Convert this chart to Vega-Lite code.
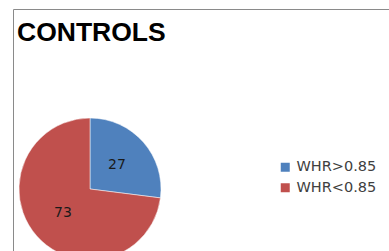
{
  "$schema": "https://vega.github.io/schema/vega-lite/v6.json",
  "autosize": "none",
  "padding": {"left": 13, "top": 9, "right": 0, "bottom": 0},
  "width": 420,
  "height": 300,
  "background": "white",
  "view": {"stroke": "#8a8a8a", "strokeWidth": 1},
  "config": {
    "font": "DejaVu Sans"
  },
  "title": {
    "text": "CONTROLS",
    "orient": "top",
    "anchor": "start",
    "frame": "group",
    "baseline": "alphabetic",
    "offset": 0,
    "dy": 58,
    "dx": 4,
    "font": "Liberation Sans",
    "fontSize": 26.5,
    "fontWeight": "bold",
    "color": "#000000"
  },
  "data": {
    "values": [
      {"group": "WHR>0.85", "value": 27, "order": 1},
      {"group": "WHR<0.85", "value": 73, "order": 2}
    ]
  },
  "encoding": {
    "theta": {"field": "value", "type": "quantitative", "stack": true},
    "order": {"field": "order", "type": "quantitative"},
    "color": {
      "field": "group",
      "type": "nominal",
      "sort": ["WHR>0.85", "WHR<0.85"],
      "scale": {"domain": ["WHR>0.85", "WHR<0.85"], "range": ["#4F81BD", "#C0504D"]},
      "legend": {
        "title": null,
        "orient": "none",
        "legendX": 265,
        "legendY": 151,
        "symbolType": "square",
        "symbolSize": 81,
        "symbolStrokeWidth": 0,
        "labelFont": "DejaVu Sans",
        "labelFontSize": 14.5,
        "labelColor": "#404040",
        "labelOffset": 4,
        "rowPadding": 5.5,
        "padding": 0
      }
    }
  },
  "layer": [
    {
      "mark": {"type": "arc", "outerRadius": 71, "x": 77, "y": 180, "stroke": "white", "strokeWidth": 0.5}
    },
    {
      "mark": {"type": "text", "radius": 36, "x": 77, "y": 180, "fontSize": 14, "font": "DejaVu Sans", "color": "#1a1a1a"},
      "encoding": {
        "text": {"field": "value", "type": "quantitative"},
        "color": {"value": "#1a1a1a"}
      }
    }
  ]
}
